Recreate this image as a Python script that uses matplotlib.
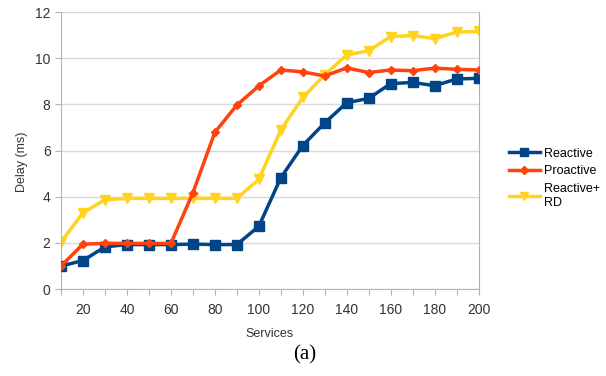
import numpy as np
from matplotlib import pyplot as plt

plt.rcParams["font.family"] = ["Liberation Sans", "DejaVu Sans"]

services = list(range(10, 201, 10))
reactive = [1.0, 1.24, 1.83, 1.93, 1.93, 1.93, 1.95, 1.93, 1.93, 2.72,
            4.82, 6.22, 7.2, 8.07, 8.26, 8.9, 8.95, 8.81, 9.1, 9.13]
proactive = [1.0, 1.95, 1.98, 1.98, 1.98, 1.98, 4.17, 6.79, 7.97, 8.8,
             9.49, 9.41, 9.23, 9.58, 9.38, 9.49, 9.46, 9.57, 9.52, 9.49]
reactive_rd = [2.04, 3.31, 3.87, 3.93, 3.93, 3.93, 3.93, 3.93, 3.93, 4.75,
               6.89, 8.3, 9.28, 10.14, 10.32, 10.94, 10.98, 10.85, 11.13, 11.16]

fig = plt.figure(figsize=(6.06, 3.76), dpi=100)
ax = fig.add_axes([0.1007, 0.231, 0.689, 0.737])

ax.plot(services, reactive, color="#004586", lw=2.5, marker="s", ms=6.5, label="Reactive", zorder=3)
ax.plot(services, proactive, color="#ff420e", lw=2.5, marker="D", ms=4.5, label="Proactive", zorder=4)
ax.plot(services, reactive_rd, color="#ffd320", lw=2.5, marker="v", ms=7, label="Reactive+\nRD", zorder=2)

ax.set_xlim(10, 200)
ax.set_ylim(0, 12)
ax.set_xticks(services)
ax.set_xticklabels([str(s) if s % 20 == 0 else "" for s in services])
ax.set_yticks(range(0, 13, 2))
ax.grid(axis="y", color="#d9d9d9", lw=1)
ax.set_axisbelow(True)
ax.spines["top"].set_visible(False)
for side in ["left", "bottom", "right"]:
    ax.spines[side].set_color("#b3b3b3")
ax.tick_params(axis="both", colors="#b3b3b3", labelcolor="#333333", labelsize=10, length=4)
ax.tick_params(axis="x", pad=6)

ax.set_xlabel("Services", fontsize=9, color="#333333", labelpad=8)
ax.set_ylabel("Delay (ms)", fontsize=9, color="#333333", labelpad=14)
ax.yaxis.set_label_coords(-0.08, 0.46)

leg = ax.legend(loc="center left", bbox_to_anchor=(1.06, 0.40), frameon=False, fontsize=9,
                handlelength=2.5, handletextpad=0.35, labelspacing=0.45, borderaxespad=0,
                markerscale=0.8)

fig.text(0.503, 0.055, "(a)", fontsize=15, family="Liberation Serif", ha="center", va="center")

plt.savefig("out.png", dpi=100)
